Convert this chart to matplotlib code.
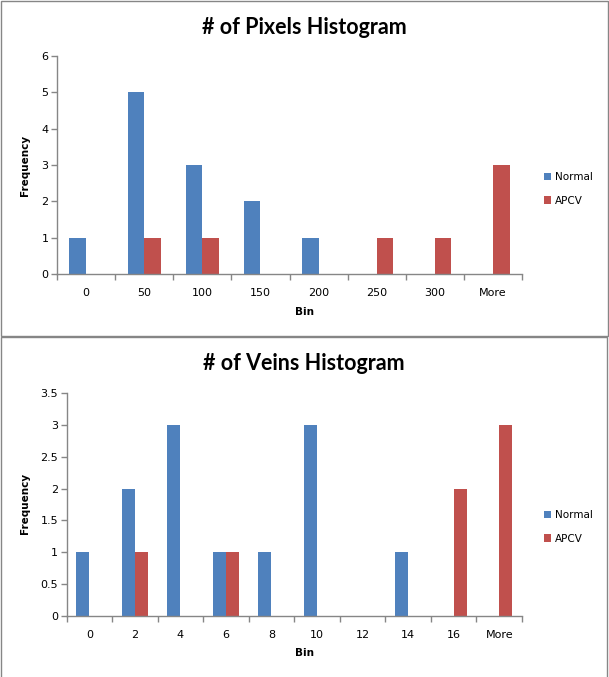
import matplotlib
matplotlib.use("Agg")
import matplotlib.pyplot as plt
from matplotlib.patches import Rectangle
import numpy as np

# histogram counts
pix_bins = ['0', '50', '100', '150', '200', '250', '300', 'More']
pix_normal = [1, 5, 3, 2, 1, 0, 0, 0]
pix_apcv = [0, 1, 1, 0, 0, 1, 1, 3]

vein_bins = ['0', '2', '4', '6', '8', '10', '12', '14', '16', 'More']
vein_normal = [1, 2, 3, 1, 1, 3, 0, 1, 0, 0]
vein_apcv = [0, 1, 0, 1, 0, 0, 0, 0, 2, 3]

legends = ['Normal', 'APCV']
colors = ['#4F81BD', '#C0504D']
axcolor = '#868686'
fontsize = 7.5
tickfontsize = 8
titlefontsize = 15.5

W, H = 609, 677
fig = plt.figure(figsize=(W / 100, H / 100), dpi=100)


def px_axes(x0, y0, x1, y1):
    # pixel box (top-left origin) -> figure axes
    return fig.add_axes([x0 / W, 1 - y1 / H, (x1 - x0) / W, (y1 - y0) / H])


def draw_hist(ax, labels, normal, apcv, ymax, ystep):
    x = np.arange(len(labels))
    width = 1 / 3.5  # excel gap width 150%
    ax.bar(x - width / 2, normal, width, color=colors[0], label=legends[0])
    ax.bar(x + width / 2, apcv, width, color=colors[1], label=legends[1])
    ax.set_xlim(-0.5, len(labels) - 0.5)
    ax.set_ylim(0, ymax)
    ax.set_xticks(x, labels=labels, fontsize=tickfontsize)
    ax.set_xticks(np.arange(len(labels) + 1) - 0.5, minor=True)
    ax.tick_params(axis='x', which='major', length=0, pad=10)
    ax.tick_params(axis='x', which='minor', length=4, color=axcolor, width=1)
    yt = np.arange(0, ymax + ystep / 2, ystep)
    ax.set_yticks(yt, labels=['%g' % v for v in yt], fontsize=tickfontsize)
    ax.tick_params(axis='y', length=4, color=axcolor, width=1, pad=2)
    for s in ['top', 'right']:
        ax.spines[s].set_visible(False)
    for s in ['left', 'bottom']:
        ax.spines[s].set_color(axcolor)
        ax.spines[s].set_linewidth(1)


# 子图 1
ax1 = px_axes(57, 56, 522, 274)
draw_hist(ax1, pix_bins, pix_normal, pix_apcv, 6, 1)
fig.text(304 / W, 1 - 27 / H, '# of Pixels Histogram', ha='center', va='center',
         fontsize=titlefontsize, fontweight='bold', family='Lato')
fig.text(304 / W, 1 - 312 / H, 'Bin', ha='center', va='center',
         fontsize=fontsize, fontweight='bold')
fig.text(25 / W, 1 - 165 / H, 'Frequency', ha='center', va='center',
         rotation=90, fontsize=fontsize, fontweight='bold')
ax1.legend(loc='center left', bbox_to_anchor=(540 / W, 1 - 189 / H),
           bbox_transform=fig.transFigure, frameon=False, fontsize=fontsize,
           handlelength=0.7, handleheight=0.7, handletextpad=0.3,
           labelspacing=1.3, borderaxespad=0)

# 子图 2
ax2 = px_axes(66.5, 393, 522, 616)
draw_hist(ax2, vein_bins, vein_normal, vein_apcv, 3.5, 0.5)
fig.text(304 / W, 1 - 363 / H, '# of Veins Histogram', ha='center', va='center',
         fontsize=titlefontsize, fontweight='bold', family='Lato')
fig.text(304 / W, 1 - 653 / H, 'Bin', ha='center', va='center',
         fontsize=fontsize, fontweight='bold')
fig.text(25 / W, 1 - 503 / H, 'Frequency', ha='center', va='center',
         rotation=90, fontsize=fontsize, fontweight='bold')
ax2.legend(loc='center left', bbox_to_anchor=(540 / W, 1 - 527 / H),
           bbox_transform=fig.transFigure, frameon=False, fontsize=fontsize,
           handlelength=0.7, handleheight=0.7, handletextpad=0.3,
           labelspacing=1.3, borderaxespad=0)

# chart borders
fig.add_artist(Rectangle((0.5 / W, 1 - 336 / H), 607.5 / W, 335.5 / H,
                         transform=fig.transFigure, fill=False,
                         edgecolor=axcolor, linewidth=1))
fig.add_artist(Rectangle((0.5 / W, -0.01), 606 / W, (677 - 337) / H + 0.01,
                         transform=fig.transFigure, fill=False,
                         edgecolor=axcolor, linewidth=1))

plt.savefig("out.png", dpi=100)
